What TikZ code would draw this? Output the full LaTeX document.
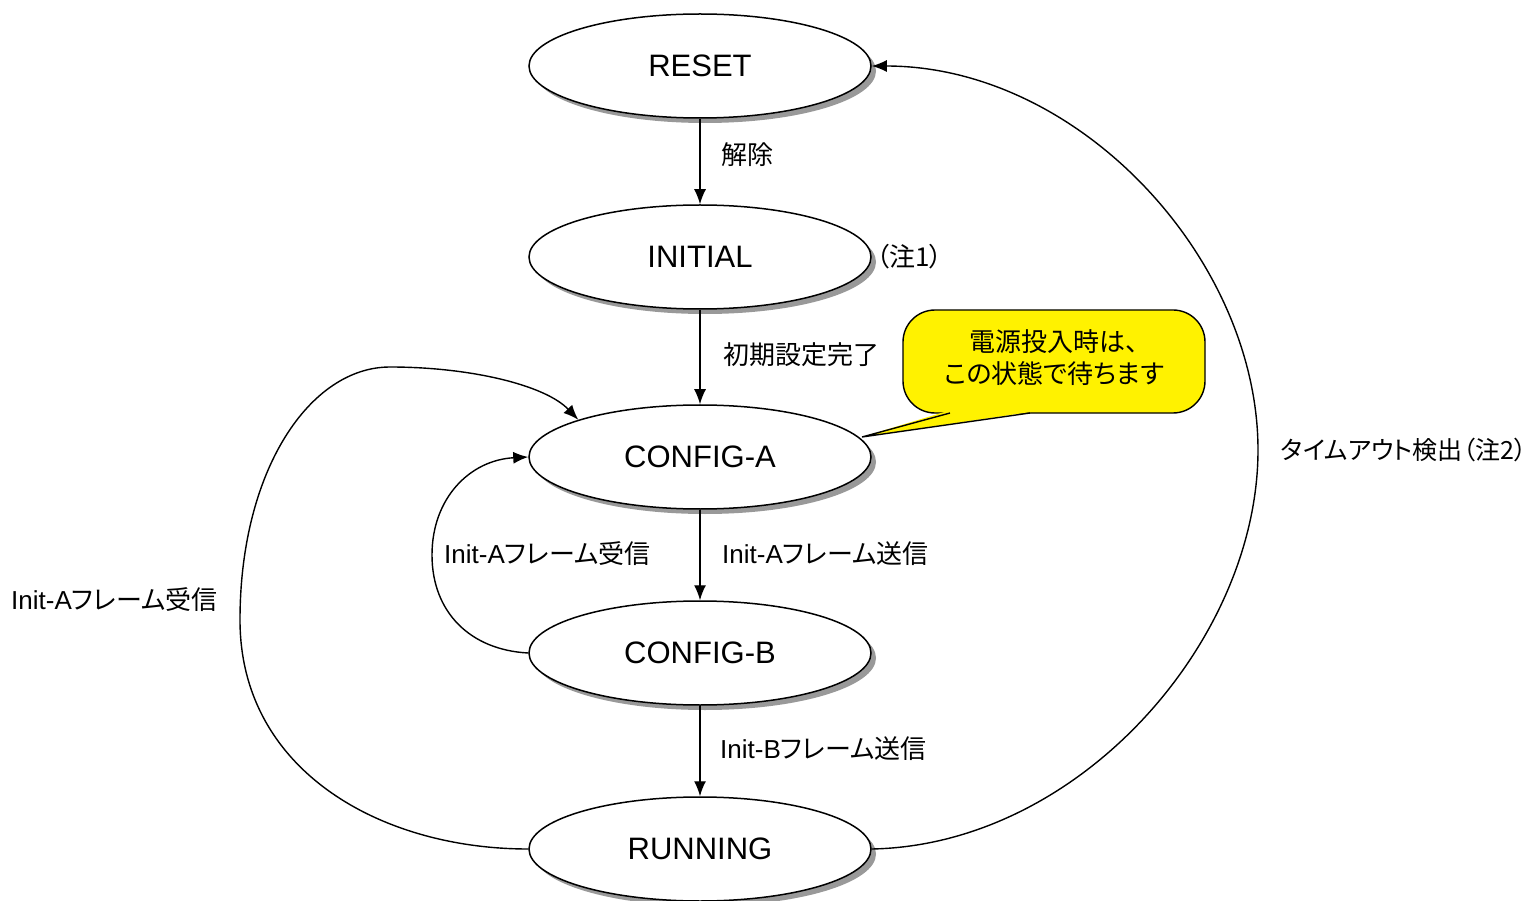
\documentclass[tikz,border=0pt]{standalone}
\usepackage{fontspec}
\setmainfont{Liberation Sans}
\newfontfamily\cjk[RawFeature=+palt]{Noto Sans CJK JP}
\usetikzlibrary{shapes.geometric,arrows.meta}
\newcommand\jp[1]{{\cjk #1}}
\begin{document}
\begin{tikzpicture}[x=1pt,y=-1pt,
  state/.style={ellipse, draw, line width=1.5pt, fill=white, minimum width=342pt, minimum height=104pt, inner sep=0pt, font=\fontsize{31}{31}\selectfont},
  shadowell/.style={ellipse, fill=gray!80, minimum width=342pt, minimum height=104pt, inner sep=0pt},
  lbl/.style={font=\fontsize{26}{30}\selectfont, inner sep=0pt, anchor=west},
  arr/.style={line width=1.4pt, -{Latex[length=15pt,width=12pt]}},
  ln/.style={line width=1.4pt}]
\useasboundingbox (0,0) rectangle (1535,901);
% shadows
\foreach \y in {66,257,457,653,849} \node[shadowell] at (705,{\y+5}) {};
% states
\node[state] (reset)   at (700,66)  {RESET};
\node[state] (initial) at (700,257) {INITIAL};
\node[state] (configa) at (700,457) {CONFIG-A};
\node[state] (configb) at (700,653) {CONFIG-B};
\node[state] (running) at (700,849) {RUNNING};
% straight transitions
\draw[arr] (reset.south) -- (initial.north);
\draw[arr] (initial.south) -- (configa.north);
\draw[arr] (configa.south) -- (configb.north);
\draw[arr] (configb.south) -- (running.north);
\node[lbl] (l1) at (721,155) {\jp{解除}};
\node[lbl] (n1) at (876,257) {\jp{（注1）}};
\node[lbl] (l2) at (723,355) {\jp{初期設定完了}};
\node[lbl] (l3) at (722,554) {Init-A\jp{フレーム送信}};
\node[lbl] (l4) at (720,749) {Init-B\jp{フレーム送信}};
% curved transitions
\coordinate (tmid) at (1258,450);
\draw[arr] (running.east) .. controls (1080,845) and (1258,640) .. (tmid) .. controls (1258,260) and (1080,66) .. (reset.east);
\node[lbl, anchor=east, font=\fontsize{25}{30}\selectfont] (l5) at (1527,450) {\jp{タイムアウト検出（注2）}};
\coordinate (bmid) at (432,555);
\draw[arr] (configb.west) .. controls (470,650) and (432,612) .. (bmid) .. controls (432,498) and (470,460) .. (configa.west);
\node[lbl] (l6) at (444,554) {Init-A\jp{フレーム受信}};
\coordinate (omid) at (240,620);
\coordinate (otop) at (390,367);
\draw[arr] (running.west) .. controls (380,849) and (240,770) .. (omid) .. controls (240,470) and (310,367) .. (otop) .. controls (470,367) and (545,385) .. (configa.163);
\node[lbl] (l7) at (11,600) {Init-A\jp{フレーム受信}};
% callout
\draw[ln, fill=yellow, rounded corners=32pt] (903,310) rectangle (1205,413);
\fill[yellow] (946,411.5) -- (862,437) -- (1034,411.5) -- cycle;
\coordinate (ptip) at (862,437);
\draw[ln] (950,413) -- (ptip) -- (1030,413);
\node[font=\fontsize{26}{32}\selectfont, align=center, inner sep=0pt] (note) at (1054,358) {\jp{電源投入時は、}\\\jp{この状態で待ちます}};
\end{tikzpicture}
\end{document}
